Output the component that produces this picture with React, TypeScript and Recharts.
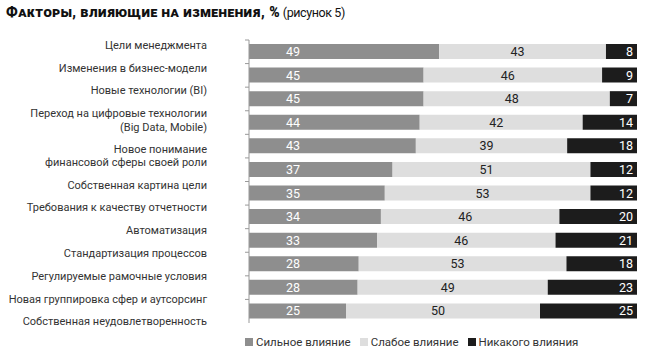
import { Bar, BarChart, LabelList, XAxis, YAxis } from "recharts";

const categories = [
  "Цели менеджмента",
  "Изменения в бизнес-модели",
  "Новые технологии (BI)",
  "Переход на цифровые технологии\n(Big Data, Mobile)",
  "Новое понимание\nфинансовой сферы своей роли",
  "Собственная картина цели",
  "Требования к качеству отчетности",
  "Автоматизация",
  "Стандартизация процессов",
  "Регулируемые рамочные условия",
  "Новая группировка сфер и аутсорсинг",
  "Собственная неудовлетворенность",
];
const strong = [49, 45, 45, 44, 43, 37, 35, 34, 33, 28, 28, 25];
const weak = [43, 46, 48, 42, 39, 51, 53, 46, 46, 53, 49, 50];
const none = [8, 9, 7, 14, 18, 12, 12, 20, 21, 18, 23, 25];

const seriesNames = ["Сильное влияние", "Слабое влияние", "Никакого влияния"];
const seriesColors = ["#8e8e8e", "#dedede", "#1c1c1c"];

const data = categories.map((name, i) => ({
  name,
  strong: strong[i],
  weak: weak[i],
  none: none[i],
}));

const FONT = "Roboto, 'DejaVu Sans', sans-serif";
const TOP = 40;
const BOTTOM = 37;
const HEIGHT = 360;
const band = (HEIGHT - TOP - BOTTOM) / categories.length;

function CategoryTick(props: any) {
  const { x, y, payload, index } = props;
  const lines: string[] = String(payload.value).split("\n");
  let extra = 0;
  for (let i = 0; i < index; i++) extra += categories[i].split("\n").length - 1;
  const dy = -3 - 0.8 * index + 13 * extra;
  return (
    <g>
      <line x1={x - 4} x2={x} y1={y - band / 2} y2={y - band / 2} stroke="#999" strokeWidth={1} />
      <text x={x - 42} y={y + dy} textAnchor="end" fontSize={11} fontFamily={FONT} fill="#333">
        {lines.map((l, i) => (
          <tspan key={i} x={x - 42} dy={i === 0 ? 0 : 13.5}>
            {l}
          </tspan>
        ))}
      </text>
    </g>
  );
}

function leftLabel(props: any) {
  const { x, y, height, value } = props;
  return (
    <text x={x + 44} y={y + height / 2 + 4.5} textAnchor="middle" fontSize={12.5} fontFamily={FONT} fill="#fff">
      {value}
    </text>
  );
}

function midLabel(props: any) {
  const { x, y, width, height, value } = props;
  return (
    <text x={x + width / 2 - 5} y={y + height / 2 + 4.5} textAnchor="middle" fontSize={12.5} fontFamily={FONT} fill="#222">
      {value}
    </text>
  );
}

function rightLabel(props: any) {
  const { x, y, width, height, value } = props;
  return (
    <text x={x + width - 4} y={y + height / 2 + 4.5} textAnchor="end" fontSize={12.5} fontFamily={FONT} fill="#fff">
      {value}
    </text>
  );
}

export default function App() {
  return (
    <div style={{ position: "absolute", left: 0, top: 0, width: 650, height: 360, background: "#fff", fontFamily: FONT }}>
      <div style={{ position: "absolute", left: 6, top: 4, fontSize: 14, color: "#111", whiteSpace: "nowrap" }}>
        <span style={{ fontWeight: 900, fontVariant: "small-caps", letterSpacing: 0.5 }}>
          Факторы, влияющие на изменения, %
        </span>
        <span style={{ fontSize: 12.5, letterSpacing: -0.4 }}> (рисунок 5)</span>
      </div>
      <BarChart
        width={650}
        height={HEIGHT}
        data={data}
        layout="vertical"
        stackOffset="expand"
        barSize={15}
        margin={{ top: TOP, right: 13, bottom: BOTTOM, left: 0 }}
      >
        <XAxis type="number" hide domain={[0, 1]} />
        <YAxis
          type="category"
          dataKey="name"
          width={249}
          interval={0}
          tickSize={0}
          tickMargin={0}
          tickLine={false}
          axisLine={{ stroke: "#999" }}
          tick={<CategoryTick />}
        />
        <Bar dataKey="strong" stackId="a" fill={seriesColors[0]} isAnimationActive={false}>
          <LabelList dataKey="strong" content={leftLabel} />
        </Bar>
        <Bar dataKey="weak" stackId="a" fill={seriesColors[1]} isAnimationActive={false}>
          <LabelList dataKey="weak" content={midLabel} />
        </Bar>
        <Bar dataKey="none" stackId="a" fill={seriesColors[2]} isAnimationActive={false}>
          <LabelList dataKey="none" content={rightLabel} />
        </Bar>
      </BarChart>
      <div style={{ position: "absolute", left: 245, top: 335, display: "flex", fontSize: 11.5, color: "#333" }}>
        {seriesNames.map((n, i) => (
          <div key={n} style={{ display: "flex", alignItems: "center", marginRight: 9 }}>
            <span style={{ width: 8, height: 8, background: seriesColors[i], marginRight: 3, display: "inline-block" }} />
            {n}
          </div>
        ))}
      </div>
    </div>
  );
}
